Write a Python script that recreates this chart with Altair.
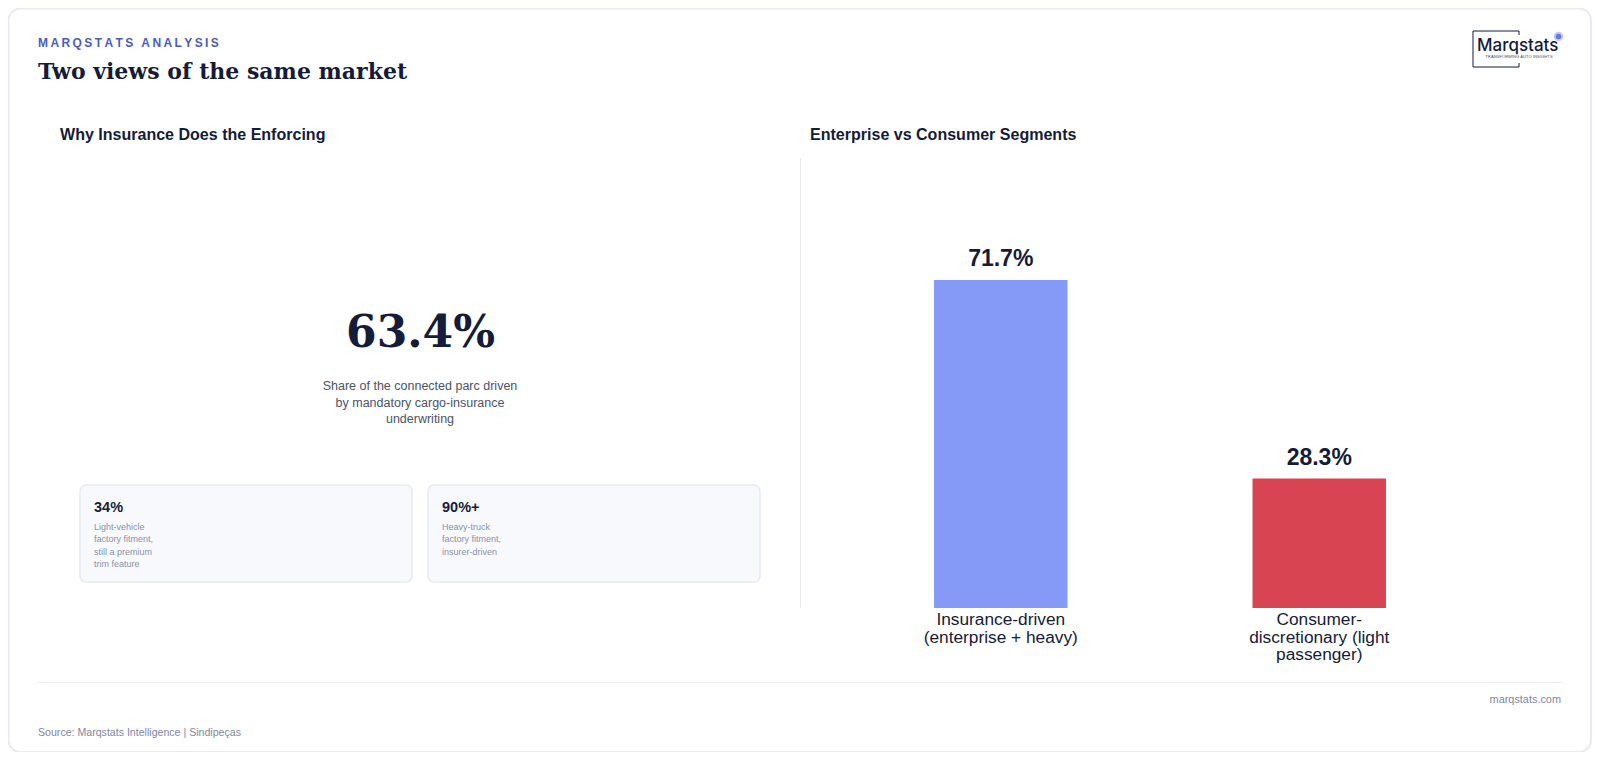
import altair as alt
import pandas as pd

# text and values
eyebrow = "MARQSTATS ANALYSIS"
headline = "Two views of the same market"
left_title = "Why Insurance Does the Enforcing"
right_title = "Enterprise vs Consumer Segments"
big_number = "63.4%"
big_caption = "Share of the connected parc driven\nby mandatory cargo-insurance\nunderwriting"
stat_values = ["34%", "90%+"]
stat_notes = [
    "Light-vehicle\nfactory fitment,\nstill a premium\ntrim feature",
    "Heavy-truck\nfactory fitment,\ninsurer-driven",
]
segments = ["Insurance-driven\n(enterprise + heavy)", "Consumer-\ndiscretionary (light\npassenger)"]
shares = [71.7, 28.3]
share_labels = ["71.7%", "28.3%"]
bar_colors = ["#8599F7", "#D94452"]
site = "marqstats.com"
source = "Source: Marqstats Intelligence | Sindipeças"
logo_word = "Marqstats"
logo_tag = "TRANSFORMING AUTO INSIGHTS"

SANS = "Liberation Sans"
SERIF = "DejaVu Serif"
DARK = "#141C38"
one = pd.DataFrame({"a": [0]})


# chart starts 8px into the page, so page pixels are shifted here
def px(v):
    return alt.value(v - 8)


def label(txt, x, y, size, color, font=SANS, weight="normal", align="left", line_height=None, baseline="alphabetic"):
    opts = dict(font=font, fontSize=size, color=color, fontWeight=weight, align=align, baseline=baseline)
    if line_height:
        opts.update(lineBreak="\n", lineHeight=line_height)
    return alt.Chart(pd.DataFrame({"t": [txt]})).mark_text(**opts).encode(text="t:N", x=px(x), y=px(y))


def box(x, x2, y, y2, fill, stroke, radius=0, width=1.0):
    return alt.Chart(one).mark_rect(
        fill=fill, stroke=stroke, strokeWidth=width, cornerRadius=radius
    ).encode(x=px(x), x2=px(x2), y=px(y), y2=px(y2))


def hline(x, x2, y, color, width=1.0):
    return alt.Chart(one).mark_rule(color=color, strokeWidth=width).encode(x=px(x), x2=px(x2), y=px(y))


def vline(x, y, y2, color, width=1.0):
    return alt.Chart(one).mark_rule(color=color, strokeWidth=width).encode(x=px(x), y=px(y), y2=px(y2))


layers = [
    box(8.5, 1591, 8.5, 752, "#FFFFFF", "#E8EAF2", radius=12, width=2),
    label("\u2009".join(eyebrow), 38, 47, 12, "#4A5BC0", weight="bold"),
    label(headline, 38, 79, 22, DARK, font=SERIF, weight="bold"),
    label(left_title, 60, 140, 16.05, DARK, weight="bold"),
    label(right_title, 810, 140, 16.05, DARK, weight="bold"),
    label(big_number, 420.5, 347, 44, DARK, font=SERIF, weight="bold", align="center"),
    label(big_caption, 420, 390, 12.5, "#4B5368", align="center", line_height=16.5),
    box(80, 412, 485, 582, "#F8F9FD", "#E8EAF2", radius=6, width=1.5),
    box(428, 760, 485, 582, "#F8F9FD", "#E8EAF2", radius=6, width=1.5),
    label(stat_values[0], 94, 512, 14.5, DARK, weight="bold"),
    label(stat_values[1], 442, 512, 14.5, DARK, weight="bold"),
    label(stat_notes[0], 94, 530, 9, "#8A91A6", line_height=12.4),
    label(stat_notes[1], 442, 530, 9, "#8A91A6", line_height=12.4),
    vline(800.5, 158, 608, "#E8EAF2"),
    hline(38, 1562, 682.5, "#E8EAF2"),
    label(site, 1561, 703, 10.9, "#7F86A0", align="right"),
    label(source, 38, 736, 10.6, "#7F86A0"),
    # logo
    hline(1473, 1519, 31, DARK),
    hline(1473, 1519, 67, DARK),
    vline(1473, 31, 67, DARK),
    vline(1519, 31, 35, DARK),
    vline(1519, 63, 67, DARK),
    label(logo_word, 1477, 51, 17, DARK, font="Inter", weight=500),
    label(logo_tag, 1519, 57.5, 4.2, "#4B5368", align="center"),
    alt.Chart(one).mark_point(filled=True, color="#4F63E0", opacity=0.35, size=90).encode(x=px(1558.5), y=px(36.5)),
    alt.Chart(one).mark_point(filled=True, color="#4F63E0", opacity=0.8, size=30).encode(x=px(1558.5), y=px(36.5)),
]

bars_df = pd.DataFrame({"segment": segments, "share": shares, "label": share_labels})
x_enc = alt.X(
    "segment:N",
    sort=segments,
    axis=None,
    scale=alt.Scale(domain=segments, range=[833.5, 1470.5], paddingInner=0.581, paddingOuter=0.2905),
)
y_enc = alt.Y("share:Q", axis=None, scale=alt.Scale(domain=[0, 98.4], range=[600, 150], nice=False))

bars = alt.Chart(bars_df).mark_bar().encode(
    x=x_enc,
    y=y_enc,
    color=alt.Color("segment:N", scale=alt.Scale(domain=segments, range=bar_colors), legend=None),
)
values = alt.Chart(bars_df).mark_text(
    font=SANS, fontSize=23, fontWeight="bold", color=DARK, dy=-14, baseline="alphabetic"
).encode(x=x_enc, y=y_enc, text="label:N")
names = alt.Chart(bars_df).mark_text(
    font=SANS, fontSize=17.3, color=DARK, lineBreak="\n", lineHeight=17.5, baseline="alphabetic"
).encode(x=x_enc, y=px(625), text="segment:N")

chart = alt.layer(*layers, bars, values, names).properties(
    width=1584,
    height=744,
    padding=0,
    autosize=alt.AutoSizeParams(type="none"),
    background="#FFFFFF",
).configure_view(stroke=None)

chart.save("out.html", embed_options={"renderer": "svg", "actions": False})
